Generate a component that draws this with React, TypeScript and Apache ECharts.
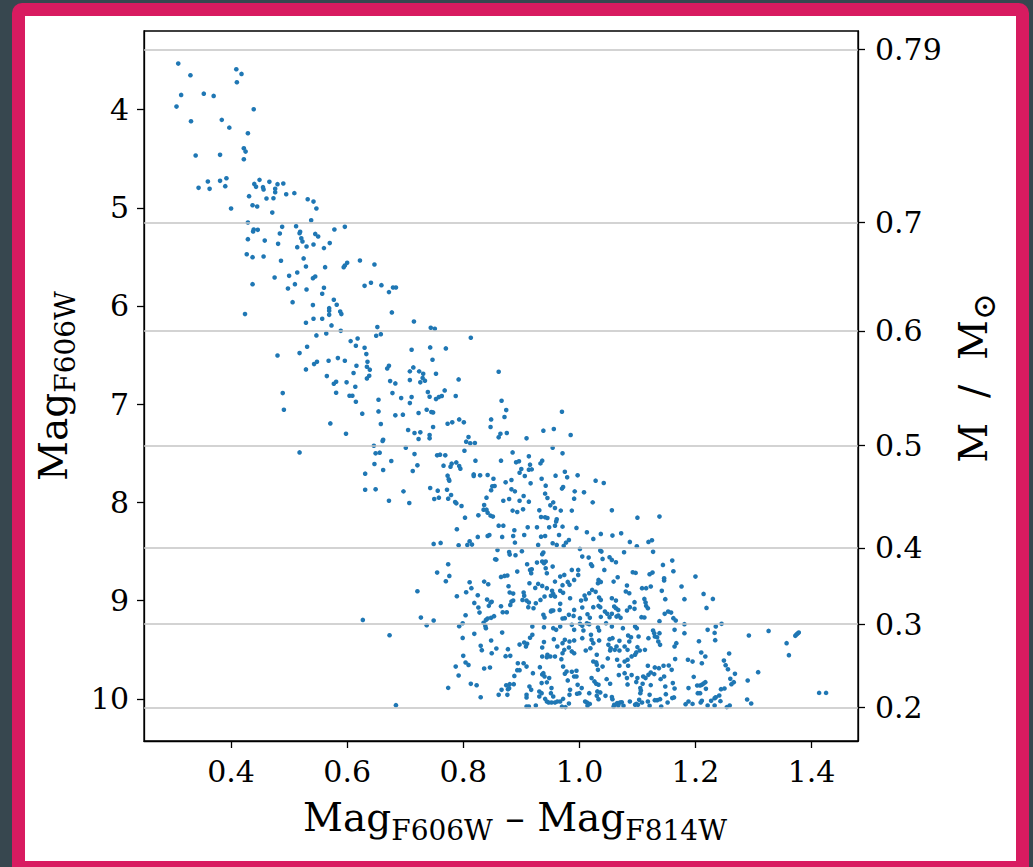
import React, { useEffect, useRef } from "react";
import * as echarts from "echarts";

const xTicks = [0.4, 0.6, 0.8, 1.0, 1.2, 1.4];
const magTicks = [4, 5, 6, 7, 8, 9, 10];
const massLabels = ["0.79", "0.7", "0.6", "0.5", "0.4", "0.3", "0.2"];
const massTickMags = [3.389, 5.15, 6.253, 7.423, 8.464, 9.24, 10.089];

const ptsTop = [[0.309,3.532],[0.330,3.651],[0.409,3.590],[0.418,3.637],[0.410,3.722],[0.314,3.851],[0.353,3.838],[0.370,3.861],[0.306,3.970],[0.439,3.997],[0.331,4.119],[0.384,4.105],[0.397,4.184],[0.429,4.241],[0.422,4.394],[0.425,4.428],[0.422,4.506],[0.339,4.468],[0.381,4.461],[0.392,4.699],[0.360,4.733],[0.381,4.726],[0.344,4.797],[0.363,4.807],[0.390,4.780],[0.400,5.008],[0.449,4.716],[0.440,4.757],[0.443,4.787],[0.466,4.736],[0.455,4.790],[0.456,4.814],[0.476,4.807],[0.480,4.760],[0.490,4.753],[0.476,4.841],[0.495,4.862],[0.509,4.851],[0.431,4.882],[0.461,4.906],[0.473,4.903],[0.532,4.913],[0.542,4.937],[0.547,5.008],[0.437,4.974],[0.445,4.987],[0.471,5.049],[0.538,5.127],[0.429,5.150],[0.488,5.194],[0.512,5.188],[0.519,5.245],[0.518,5.259],[0.484,5.262],[0.439,5.221],[0.438,5.242],[0.446,5.225],[0.545,5.266],[0.550,5.293],[0.578,5.221],[0.596,5.194],[0.429,5.320],[0.458,5.334],[0.521,5.310],[0.523,5.344],[0.481,5.367],[0.530,5.394],[0.514,5.401],[0.542,5.374],[0.570,5.360],[0.560,5.411],[0.427,5.473],[0.437,5.503],[0.456,5.496],[0.486,5.540],[0.525,5.516],[0.529,5.598],[0.562,5.605],[0.594,5.605],[0.596,5.588],[0.600,5.561],[0.622,5.537],[0.647,5.578],[0.475,5.710],[0.500,5.693],[0.514,5.659],[0.541,5.717],[0.545,5.700]];

const ptsUpperMid = [[0.437,5.778],[0.498,5.822],[0.510,5.778],[0.530,5.832],[0.560,5.815],[0.557,5.876],[0.630,5.795],[0.641,5.764],[0.659,5.788],[0.679,5.812],[0.684,5.812],[0.672,5.859],[0.506,5.961],[0.541,5.991],[0.577,5.937],[0.582,5.988],[0.569,6.022],[0.569,6.049],[0.569,6.090],[0.588,6.056],[0.590,6.083],[0.424,6.083],[0.529,6.171],[0.542,6.130],[0.557,6.130],[0.573,6.198],[0.677,6.066],[0.652,6.215],[0.715,6.158],[0.744,6.222],[0.751,6.232],[0.547,6.300],[0.564,6.280],[0.589,6.253],[0.650,6.303],[0.658,6.287],[0.813,6.324],[0.606,6.358],[0.618,6.331],[0.615,6.405],[0.630,6.426],[0.633,6.490],[0.480,6.504],[0.518,6.480],[0.531,6.415],[0.711,6.446],[0.743,6.422],[0.770,6.432],[0.568,6.558],[0.584,6.531],[0.596,6.558],[0.543,6.592],[0.548,6.568],[0.529,6.646],[0.616,6.609],[0.635,6.568],[0.634,6.619],[0.639,6.649],[0.669,6.636],[0.672,6.609],[0.747,6.548],[0.714,6.626],[0.708,6.666],[0.724,6.666],[0.731,6.690],[0.730,6.734],[0.734,6.761],[0.726,6.778],[0.753,6.690],[0.708,6.755],[0.565,6.714],[0.611,6.683],[0.638,6.711],[0.634,6.738],[0.577,6.792],[0.581,6.772],[0.599,6.778],[0.614,6.823],[0.674,6.765],[0.683,6.789],[0.792,6.748],[0.489,6.887],[0.581,6.884],[0.604,6.914],[0.609,6.914],[0.615,6.975],[0.654,6.955],[0.678,6.887],[0.693,6.938],[0.711,6.928],[0.708,6.989],[0.739,6.877],[0.742,6.924],[0.753,6.948],[0.758,6.928],[0.763,6.917],[0.768,6.860],[0.787,6.917],[0.491,7.057],[0.626,7.097],[0.654,7.074],[0.683,7.114],[0.696,7.107],[0.723,7.090],[0.737,7.057],[0.745,7.080],[0.748,7.084],[0.571,7.196],[0.598,7.301],[0.658,7.202],[0.705,7.263],[0.716,7.294],[0.726,7.287],[0.723,7.355],[0.742,7.314],[0.742,7.348],[0.748,7.233],[0.773,7.199],[0.781,7.185],[0.793,7.155],[0.801,7.185],[0.662,7.362],[0.661,7.375],[0.809,7.335],[0.805,7.382],[0.812,7.399],[0.820,7.396],[0.518,7.491],[0.646,7.423],[0.649,7.501],[0.656,7.494],[0.701,7.443],[0.716,7.508],[0.802,7.474],[0.755,7.521],[0.760,7.514],[0.769,7.521],[0.631,7.708],[0.647,7.609],[0.662,7.670],[0.676,7.579],[0.721,7.623],[0.713,7.681],[0.766,7.626],[0.780,7.606],[0.788,7.593],[0.778,7.637],[0.793,7.630],[0.795,7.657],[0.821,7.575],[0.818,7.715],[0.818,7.732],[0.773,7.728],[0.775,7.765],[0.776,7.779],[0.631,7.871],[0.649,7.867],[0.697,7.888],[0.743,7.854],[0.756,7.881],[0.772,7.871],[0.779,7.925],[0.750,7.966],[0.758,7.952],[0.774,7.962],[0.786,7.996],[0.788,8.010],[0.797,8.037],[0.672,7.983],[0.707,8.006],[0.803,8.156],[0.826,8.132]];

const ptsMidRight = [[0.861,6.670],[0.866,6.965],[0.874,7.060],[0.871,7.131],[0.848,7.155],[0.847,7.233],[0.864,7.301],[0.861,7.338],[0.875,7.294],[0.970,7.077],[0.956,7.253],[0.938,7.270],[0.909,7.348],[0.985,7.314],[0.954,7.443],[0.971,7.501],[0.885,7.491],[0.913,7.531],[0.865,7.575],[0.891,7.592],[0.896,7.582],[0.915,7.616],[0.936,7.575],[0.933,7.603],[0.900,7.660],[0.913,7.667],[0.918,7.664],[0.897,7.698],[0.906,7.732],[0.829,7.725],[0.842,7.721],[0.852,7.759],[0.873,7.796],[0.883,7.772],[0.916,7.806],[0.935,7.759],[0.942,7.830],[0.959,7.728],[0.975,7.688],[0.979,7.745],[0.997,7.725],[1.028,7.779],[1.042,7.803],[0.854,7.833],[0.850,7.837],[0.848,7.877],[0.883,7.867],[0.889,7.888],[0.904,7.935],[0.941,7.911],[0.945,7.955],[0.970,7.860],[0.972,7.844],[0.992,7.888],[1.008,7.898],[0.991,7.962],[0.840,7.952],[0.836,8.027],[0.869,7.983],[0.879,7.966],[0.897,7.983],[0.913,7.993],[0.955,8.000],[0.950,8.030],[0.958,8.057],[1.023,8.000],[0.835,8.074],[0.840,8.074],[0.842,8.105],[0.847,8.135],[0.851,8.145],[0.885,8.084],[0.893,8.098],[0.903,8.071],[0.931,8.081],[0.968,8.084],[0.987,8.084],[1.056,8.081],[0.934,8.149],[0.941,8.152],[0.945,8.159],[1.100,8.156],[1.138,8.145],[0.961,8.173]];

const ptsLowLeft = [[0.789,8.274],[0.861,8.237],[0.869,8.237],[0.888,8.284],[0.749,8.423],[0.761,8.413],[0.792,8.437],[0.807,8.433],[0.811,8.396],[0.815,8.430],[0.825,8.352],[0.842,8.342],[0.845,8.332],[0.867,8.352],[0.886,8.342],[0.889,8.410],[0.859,8.484],[0.879,8.505],[0.880,8.532],[0.890,8.539],[0.774,8.630],[0.855,8.579],[0.857,8.583],[0.755,8.715],[0.770,8.803],[0.776,8.749],[0.811,8.813],[0.814,8.874],[0.805,8.915],[0.836,8.807],[0.843,8.834],[0.865,8.759],[0.871,8.749],[0.876,8.745],[0.878,8.854],[0.880,8.918],[0.886,8.929],[0.893,8.705],[0.721,8.905],[0.789,8.956],[0.825,8.946],[0.819,9.024],[0.826,9.071],[0.828,9.122],[0.841,8.990],[0.849,9.013],[0.844,9.054],[0.847,9.020],[0.865,9.058],[0.868,9.119],[0.875,9.119],[0.881,9.044],[0.883,9.010],[0.886,8.999],[0.804,9.149],[0.799,9.231],[0.793,9.261],[0.835,9.227],[0.839,9.197],[0.842,9.183],[0.838,9.258],[0.839,9.281],[0.848,9.176],[0.853,9.159],[0.727,9.173],[0.749,9.203],[0.737,9.251],[0.627,9.197],[0.673,9.353],[0.799,9.380],[0.819,9.339],[0.867,9.326],[0.830,9.461],[0.832,9.505],[0.848,9.407],[0.857,9.488],[0.849,9.536],[0.877,9.495],[0.873,9.566],[0.881,9.563],[0.897,9.448],[0.800,9.563],[0.804,9.631],[0.809,9.655],[0.787,9.672],[0.792,9.763],[0.836,9.692],[0.846,9.682],[0.894,9.638],[0.893,9.709],[0.897,9.709],[0.888,9.767],[0.774,9.889],[0.813,9.848],[0.823,9.862],[0.866,9.909],[0.874,9.862],[0.880,9.851],[0.879,9.892],[0.877,9.902],[0.861,9.960],[0.876,9.960],[0.887,9.851],[0.830,9.984],[0.684,10.065]];

const ptsLowCenter = [[0.911,8.254],[0.927,8.254],[0.948,8.254],[0.960,8.196],[0.958,8.237],[0.971,8.247],[0.995,8.260],[1.013,8.304],[1.037,8.321],[1.057,8.338],[1.072,8.315],[0.905,8.332],[0.934,8.349],[0.941,8.342],[0.965,8.332],[1.024,8.372],[0.982,8.383],[0.977,8.410],[1.087,8.403],[1.099,8.447],[1.119,8.403],[1.125,8.386],[0.929,8.433],[0.954,8.416],[0.961,8.433],[0.973,8.443],[1.001,8.474],[1.036,8.491],[1.038,8.501],[1.077,8.508],[1.127,8.504],[0.901,8.498],[0.938,8.511],[0.936,8.528],[1.005,8.552],[1.016,8.562],[1.040,8.576],[1.052,8.559],[1.056,8.586],[1.063,8.610],[0.936,8.603],[0.942,8.603],[0.910,8.630],[0.927,8.613],[0.939,8.620],[1.144,8.637],[1.160,8.593],[0.918,8.681],[0.942,8.671],[0.954,8.654],[1.020,8.630],[1.022,8.647],[0.987,8.688],[0.998,8.688],[1.043,8.688],[1.162,8.701],[1.092,8.712],[1.097,8.718],[1.121,8.732],[1.126,8.715],[0.974,8.739],[0.944,8.722],[0.967,8.756],[0.998,8.739],[0.991,8.790],[0.915,8.688],[0.917,8.722],[1.146,8.773],[1.146,8.796],[1.033,8.790],[1.037,8.810],[1.066,8.762],[1.059,8.807],[1.032,8.824],[0.914,8.824],[0.929,8.830],[0.936,8.851],[0.958,8.807],[0.980,8.810],[0.983,8.840],[0.971,8.843],[1.082,8.847],[1.108,8.874],[1.115,8.874],[1.123,8.857],[1.176,8.857],[0.904,8.918],[0.905,8.952],[0.924,8.871],[0.944,8.874],[0.953,8.901],[0.955,8.932],[0.958,8.959],[0.967,8.901],[0.972,8.921],[0.951,8.952],[0.940,8.959],[1.022,8.891],[1.028,8.911],[1.017,8.925],[1.034,8.969],[1.037,8.993],[1.080,8.908],[1.086,8.925],[1.142,8.901],[1.009,8.949],[1.011,8.986],[1.003,9.000],[0.984,8.976],[1.056,8.976],[1.063,9.000],[1.095,9.016],[1.112,8.983],[1.114,9.020],[1.148,8.986],[1.181,8.986],[0.902,8.993],[0.909,9.000],[0.913,9.020],[0.925,9.027],[0.921,9.078],[0.912,9.067],[0.933,8.993],[0.967,9.033],[0.966,9.095],[0.952,9.101],[0.951,9.111],[0.955,9.101],[1.005,9.071],[1.024,9.067],[1.033,9.054],[1.036,9.067],[1.060,9.061],[1.063,9.078],[1.067,9.095],[1.087,9.067],[1.082,9.101],[1.095,9.084],[1.115,9.054],[1.118,9.078],[1.153,9.112],[1.158,9.122],[1.147,9.135],[1.044,9.112],[1.048,9.135],[1.056,9.135],[1.067,9.152],[1.071,9.176],[1.064,9.163],[0.991,9.095],[0.990,9.156],[0.982,9.145],[0.975,9.179],[0.971,9.183],[1.014,9.139],[1.018,9.176],[1.001,9.179],[1.001,9.237],[1.013,9.231],[1.037,9.166],[1.052,9.169],[0.938,9.145],[0.940,9.172],[1.107,9.169],[1.112,9.172],[1.138,9.210],[1.162,9.179],[1.166,9.203],[1.181,9.240],[0.919,9.264],[0.939,9.271],[0.955,9.281],[0.960,9.298],[0.967,9.264],[0.987,9.247],[0.991,9.298],[1.005,9.257],[1.007,9.305],[1.017,9.240],[1.032,9.274],[1.034,9.305],[1.046,9.230],[1.056,9.264],[1.075,9.281],[1.096,9.264],[1.099,9.281],[1.084,9.356],[1.089,9.373],[1.102,9.366],[1.119,9.383],[1.127,9.305],[1.129,9.332],[1.130,9.366],[1.138,9.332],[1.164,9.298],[1.181,9.332],[0.905,9.427],[0.910,9.440],[0.908,9.468],[0.915,9.379],[0.919,9.349],[0.936,9.478],[0.939,9.423],[0.956,9.393],[0.962,9.468],[0.971,9.434],[0.975,9.400],[0.983,9.417],[0.982,9.478],[0.987,9.518],[0.991,9.536],[0.991,9.406],[1.005,9.383],[1.020,9.349],[1.021,9.400],[1.024,9.434],[1.019,9.485],[1.011,9.508],[1.034,9.406],[1.052,9.393],[1.050,9.451],[1.057,9.383],[1.054,9.485],[1.053,9.508],[1.061,9.502],[1.064,9.468],[1.069,9.410],[1.069,9.508],[1.078,9.468],[1.086,9.417],[1.083,9.502],[1.100,9.474],[1.104,9.508],[1.113,9.502],[1.136,9.417],[1.134,9.373],[1.139,9.451],[1.167,9.434],[1.164,9.468],[0.936,9.570],[0.944,9.576],[0.950,9.570],[0.958,9.570],[0.969,9.597],[0.971,9.536],[0.974,9.502],[0.904,9.638],[0.909,9.672],[0.932,9.678],[0.938,9.739],[0.945,9.552],[0.972,9.672],[0.978,9.722],[0.975,9.745],[0.987,9.725],[0.991,9.773],[0.995,9.715],[1.024,9.620],[1.029,9.630],[1.030,9.552],[1.040,9.672],[1.032,9.705],[1.030,9.654],[1.049,9.589],[1.065,9.603],[1.069,9.664],[1.078,9.620],[1.083,9.603],[1.084,9.664],[1.090,9.569],[1.096,9.552],[1.098,9.528],[1.118,9.664],[1.130,9.681],[1.137,9.688],[1.145,9.664],[1.154,9.661],[1.159,9.705],[1.165,9.596],[1.187,9.603],[0.920,9.739],[0.936,9.752],[0.935,9.840],[0.940,9.773],[0.948,9.789],[0.944,9.833],[0.952,9.891],[0.931,9.926],[0.914,9.875],[0.917,9.909],[0.909,9.960],[0.980,9.813],[0.995,9.773],[0.997,9.858],[1.000,9.943],[1.004,9.891],[1.021,9.789],[1.026,9.823],[1.029,9.847],[1.033,9.857],[1.031,9.925],[1.036,9.935],[1.017,9.943],[1.047,9.800],[1.053,9.847],[1.068,9.759],[1.078,9.739],[1.082,9.789],[1.083,9.854],[1.090,9.759],[1.100,9.789],[1.098,9.830],[1.110,9.773],[1.119,9.756],[1.123,9.732],[1.114,9.789],[1.109,9.847],[1.105,9.891],[1.105,9.943],[1.123,9.861],[1.129,9.749],[1.140,9.800],[1.146,9.773],[1.148,9.875],[1.149,9.953],[1.161,9.840],[1.164,9.895],[1.163,9.986],[1.188,9.891],[0.951,9.943],[0.955,9.977],[0.931,9.977],[0.935,9.943],[0.941,10.001],[0.944,10.028],[0.947,10.038],[0.952,10.038],[0.958,10.038],[0.962,10.028],[0.967,10.028],[0.972,10.001],[0.983,9.960],[0.984,9.909],[0.982,10.048],[0.970,10.080],[0.976,10.085],[0.996,9.949],[1.010,10.028],[1.013,10.038],[1.014,10.071],[1.018,10.052],[1.030,9.970],[1.033,10.004],[1.045,9.970],[1.056,9.983],[1.057,10.004],[1.060,10.062],[1.065,10.045],[1.070,10.038],[1.073,10.035],[1.059,10.079],[1.067,10.068],[1.076,10.071],[1.087,10.028],[1.096,10.062],[1.098,10.052],[1.101,10.062],[1.103,10.011],[1.106,9.915],[1.108,10.038],[1.118,10.028],[1.121,9.960],[1.121,10.071],[1.130,10.014],[1.134,10.014],[1.139,10.004],[1.141,10.079],[1.152,10.038],[1.160,9.993],[1.183,10.055],[1.188,10.028],[0.909,10.079],[0.913,10.079],[0.925,10.068],[0.909,9.986]];

const ptsLowRight = [[1.200,8.756],[1.214,8.932],[1.230,8.983],[1.219,9.075],[1.221,9.298],[1.235,9.264],[1.245,9.237],[1.233,9.329],[1.234,9.403],[1.206,9.414],[1.292,9.356],[1.326,9.309],[1.357,9.434],[1.361,9.556],[1.372,9.359],[1.374,9.346],[1.376,9.336],[1.378,9.326],[1.210,9.529],[1.217,9.570],[1.211,9.638],[1.195,9.621],[1.258,9.539],[1.249,9.611],[1.252,9.658],[1.256,9.699],[1.268,9.746],[1.260,9.797],[1.262,9.851],[1.266,9.831],[1.197,9.777],[1.308,9.729],[1.290,9.814],[1.203,9.865],[1.208,9.865],[1.211,9.858],[1.214,9.845],[1.217,9.831],[1.218,9.899],[1.204,9.943],[1.208,9.943],[1.244,9.902],[1.250,9.895],[1.241,9.967],[1.235,9.984],[1.233,9.994],[1.227,10.021],[1.243,10.024],[1.211,10.021],[1.209,10.038],[1.195,10.052],[1.221,10.068],[1.233,10.068],[1.254,10.085],[1.259,10.068],[1.289,10.007],[1.296,10.048],[1.413,9.940],[1.425,9.940]];

const FONT = "DejaVu Serif";

export default function App() {
  const ref = useRef<HTMLDivElement>(null);
  useEffect(() => {
    if (!ref.current) return;
    const chart = echarts.init(ref.current, null, { renderer: "svg" });
    const data = [...ptsTop, ...ptsUpperMid, ...ptsMidRight, ...ptsLowLeft, ...ptsLowCenter, ...ptsLowRight];
    const rich = {
      m: { fontSize: 39, fontFamily: FONT, color: "#000", verticalAlign: "bottom", padding: [0, 0, 7, 0] },
      s: { fontSize: 28, fontFamily: FONT, color: "#000", verticalAlign: "bottom" },
    };
    const richRight = {
      m: { fontSize: 39, fontFamily: FONT, color: "#000", verticalAlign: "bottom", padding: [0, 0, 7, 0] },
      s: { fontSize: 32, fontFamily: FONT, color: "#000", verticalAlign: "bottom" },
    };
    const axisLineStyle = { color: "#000", width: 1.3 };
    const labelBase = { fontFamily: FONT, fontSize: 30, color: "#000" };
    chart.setOption({
      animation: false,
      backgroundColor: "transparent",
      grid: {
        left: 144, right: 175, top: 31, bottom: 126,
        show: true, borderColor: "#000", borderWidth: 1.3, backgroundColor: "transparent",
        containLabel: false, outerBoundsMode: "none",
      },
      xAxis: {
        type: "value", min: 0.25, max: 1.48, position: "bottom",
        axisLine: { show: true, onZero: false, lineStyle: axisLineStyle },
        axisTick: { show: true, inside: false, length: 7, customValues: xTicks, lineStyle: axisLineStyle },
        axisLabel: {
          ...labelBase, customValues: xTicks, margin: 15,
          formatter: (v: number) => v.toFixed(1),
        },
        splitLine: { show: false },
        name: "{m|Mag}{s|F606W}{m| – Mag}{s|F814W}",
        nameLocation: "middle", nameGap: 57,
        nameTextStyle: { fontFamily: FONT, color: "#000", rich, padding: [0, 0, 0, 28] },
      },
      yAxis: [
        {
          type: "value", min: 3.2, max: 10.43, inverse: true, position: "left",
          axisLine: { show: true, onZero: false, lineStyle: axisLineStyle },
          axisTick: { show: true, inside: false, length: 7, customValues: magTicks, lineStyle: axisLineStyle },
          axisLabel: {
            ...labelBase, customValues: magTicks, margin: 15,
            formatter: (v: number) => String(v),
          },
          splitLine: { show: false },
          name: "{m|Mag}{s|F606W}",
          nameLocation: "middle", nameGap: 64,
          nameTextStyle: { fontFamily: FONT, color: "#000", rich },
        },
        {
          type: "value", min: 3.2, max: 10.43, inverse: true, position: "right",
          axisLine: { show: true, onZero: false, lineStyle: axisLineStyle },
          axisTick: { show: true, inside: false, length: 7, customValues: massTickMags, lineStyle: axisLineStyle },
          axisLabel: {
            ...labelBase, customValues: massTickMags, margin: 17,
            formatter: (v: number) => {
              const i = massTickMags.findIndex((m) => Math.abs(m - v) < 1e-6);
              return i >= 0 ? massLabels[i] : "";
            },
          },
          splitLine: { show: false },
          name: "{m|M  /  M}{s|⊙}",
          nameLocation: "middle", nameGap: 96,
          nameTextStyle: { fontFamily: FONT, color: "#000", rich: richRight, padding: [0, 0, 0, 16] },
        },
      ],
      series: [
        {
          type: "scatter",
          xAxisIndex: 0, yAxisIndex: 0,
          data,
          symbolSize: 4.6,
          itemStyle: { color: "#1f77b4", opacity: 1 },
          emphasis: { disabled: true },
          markLine: {
            silent: true,
            symbol: ["none", "none"],
            label: { show: false },
            emphasis: { disabled: true },
            lineStyle: { color: "#c4c4c4", width: 1.6, type: "solid" },
            data: massTickMags.map((v) => ({ yAxis: v })),
          },
        },
      ],
    });
    return () => chart.dispose();
  }, []);

  return (
    <div style={{ position: "absolute", left: 0, top: 0, width: 1033, height: 867, background: "#37474f", overflow: "hidden" }}>
      <div style={{ position: "absolute", left: 12, top: 3, width: 1017, height: 890, background: "#d81b60", borderRadius: 10 }} />
      <div style={{ position: "absolute", left: 25, top: 16, width: 991, height: 845, background: "#ffffff" }} />
      <div ref={ref} style={{ position: "absolute", left: 0, top: 0, width: 1033, height: 867 }} />
    </div>
  );
}
